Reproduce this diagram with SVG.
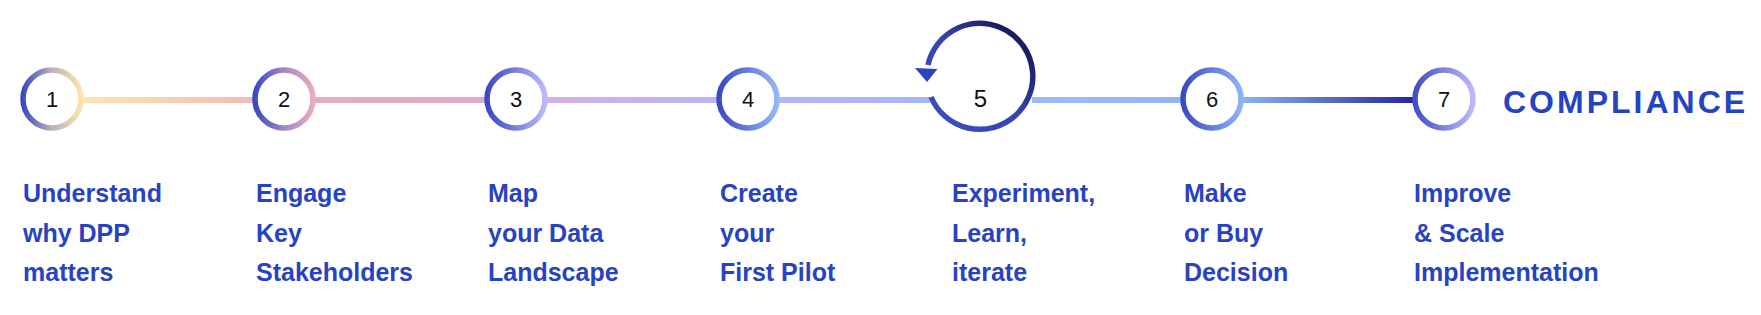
<svg xmlns="http://www.w3.org/2000/svg" width="1761" height="315" viewBox="0 0 1761 315">
<style>
.ring{fill:#fff;stroke-width:5.5}
.num{font-family:"Liberation Sans",Arial,sans-serif;font-size:22px;fill:#111;text-anchor:middle}
.lbl{font-family:"Liberation Sans",Arial,sans-serif;font-size:25px;font-weight:bold;fill:#2843C2}
.seg{stroke-width:6;fill:none}
.title{font-family:"Liberation Sans",Arial,sans-serif;font-size:32px;font-weight:bold;fill:#2643C4;letter-spacing:3px}
</style>
<defs>
<linearGradient id="c1" x1="0" y1="0" x2="1" y2="0"><stop offset="0" stop-color="#3a4ac0"/><stop offset="0.5" stop-color="#bdb2bc"/><stop offset="1" stop-color="#fde3ae"/></linearGradient>
<linearGradient id="c2" x1="0" y1="0" x2="1" y2="0"><stop offset="0" stop-color="#3a4ac0"/><stop offset="0.5" stop-color="#a688c4"/><stop offset="1" stop-color="#eaaac0"/></linearGradient>
<linearGradient id="c3" x1="0" y1="0" x2="1" y2="0"><stop offset="0" stop-color="#3a4ac0"/><stop offset="1" stop-color="#bcb9f9"/></linearGradient>
<linearGradient id="c4" x1="0" y1="0" x2="1" y2="0"><stop offset="0" stop-color="#3a4ac0"/><stop offset="1" stop-color="#93b7f6"/></linearGradient>
<linearGradient id="c6" x1="0" y1="0" x2="1" y2="0"><stop offset="0" stop-color="#3a4ac0"/><stop offset="1" stop-color="#8db3f6"/></linearGradient>
<linearGradient id="c7" x1="0" y1="0" x2="1" y2="0"><stop offset="0" stop-color="#4450c2"/><stop offset="1" stop-color="#bdb8f9"/></linearGradient>
<linearGradient id="c5" x1="0" y1="1" x2="1" y2="0"><stop offset="0" stop-color="#3c4ec2"/><stop offset="0.5" stop-color="#3844ae"/><stop offset="1" stop-color="#0b0b40"/></linearGradient>
<linearGradient id="l12" gradientUnits="userSpaceOnUse" x1="84" y1="0" x2="252" y2="0"><stop offset="0" stop-color="#fde4ac"/><stop offset="1" stop-color="#f2bcb6"/></linearGradient>
<linearGradient id="l23" gradientUnits="userSpaceOnUse" x1="316" y1="0" x2="484" y2="0"><stop offset="0" stop-color="#eaabbe"/><stop offset="1" stop-color="#e0a9c8"/></linearGradient>
<linearGradient id="l34" gradientUnits="userSpaceOnUse" x1="548" y1="0" x2="716" y2="0"><stop offset="0" stop-color="#d4b0e6"/><stop offset="1" stop-color="#bcb4f6"/></linearGradient>
<linearGradient id="l45" gradientUnits="userSpaceOnUse" x1="780" y1="0" x2="930" y2="0"><stop offset="0" stop-color="#b6b4f8"/><stop offset="1" stop-color="#a8b5f8"/></linearGradient>
<linearGradient id="l56" gradientUnits="userSpaceOnUse" x1="1034" y1="0" x2="1180" y2="0"><stop offset="0" stop-color="#a0b9f8"/><stop offset="1" stop-color="#90b6f8"/></linearGradient>
<linearGradient id="l67" gradientUnits="userSpaceOnUse" x1="1244" y1="0" x2="1412" y2="0"><stop offset="0" stop-color="#8ab1f3"/><stop offset="1" stop-color="#2626a0"/></linearGradient>
</defs>
<g id="connectors">
<line class="seg" x1="82" y1="100" x2="254" y2="100" stroke="url(#l12)"/>
<line class="seg" x1="314" y1="100" x2="486" y2="100" stroke="url(#l23)"/>
<line class="seg" x1="546" y1="100" x2="718" y2="100" stroke="url(#l34)"/>
<line class="seg" x1="778" y1="100" x2="930" y2="100" stroke="url(#l45)"/>
<line class="seg" x1="1032" y1="100" x2="1182" y2="100" stroke="url(#l56)"/>
<line class="seg" x1="1242" y1="100" x2="1414" y2="100" stroke="url(#l67)"/>
</g>
<g id="node1">
<circle class="ring" cx="52" cy="99" r="29" stroke="url(#c1)"/>
<text class="num" x="52" y="107">1</text>
<text class="lbl" x="23" y="202">Understand</text>
<text class="lbl" x="23" y="242">why DPP</text>
<text class="lbl" x="23" y="281">matters</text>
</g>
<g id="node2">
<circle class="ring" cx="284" cy="99" r="29" stroke="url(#c2)"/>
<text class="num" x="284" y="107">2</text>
<text class="lbl" x="256" y="202">Engage</text>
<text class="lbl" x="256" y="242">Key</text>
<text class="lbl" x="256" y="281">Stakeholders</text>
</g>
<g id="node3">
<circle class="ring" cx="516" cy="99" r="29" stroke="url(#c3)"/>
<text class="num" x="516" y="107">3</text>
<text class="lbl" x="488" y="202">Map</text>
<text class="lbl" x="488" y="242">your Data</text>
<text class="lbl" x="488" y="281">Landscape</text>
</g>
<g id="node4">
<circle class="ring" cx="748" cy="99" r="29" stroke="url(#c4)"/>
<text class="num" x="748" y="107">4</text>
<text class="lbl" x="720" y="202">Create</text>
<text class="lbl" x="720" y="242">your</text>
<text class="lbl" x="720" y="281">First Pilot</text>
</g>
<g id="node5">
<path d="M 931,97 A 53 53 0 1 0 928,65" fill="none" stroke="url(#c5)" stroke-width="5.5"/>
<polygon points="915,68 937.5,69 927,82" fill="#2a44c0"/>
<text class="num" x="980.5" y="107" style="font-size:24px">5</text>
<text class="lbl" x="952" y="202">Experiment,</text>
<text class="lbl" x="952" y="242">Learn,</text>
<text class="lbl" x="952" y="281">iterate</text>
</g>
<g id="node6">
<circle class="ring" cx="1212" cy="99" r="29" stroke="url(#c6)"/>
<text class="num" x="1212" y="107">6</text>
<text class="lbl" x="1184" y="202">Make</text>
<text class="lbl" x="1184" y="242">or Buy</text>
<text class="lbl" x="1184" y="281">Decision</text>
</g>
<g id="node7">
<circle class="ring" cx="1444" cy="99" r="29" stroke="url(#c7)"/>
<text class="num" x="1444" y="107">7</text>
<text class="lbl" x="1414" y="202">Improve</text>
<text class="lbl" x="1414" y="242">&amp; Scale</text>
<text class="lbl" x="1414" y="281">Implementation</text>
</g>
<g id="compliance">
<text class="title" x="1503" y="113">COMPLIANCE</text>
</g>
</svg>
